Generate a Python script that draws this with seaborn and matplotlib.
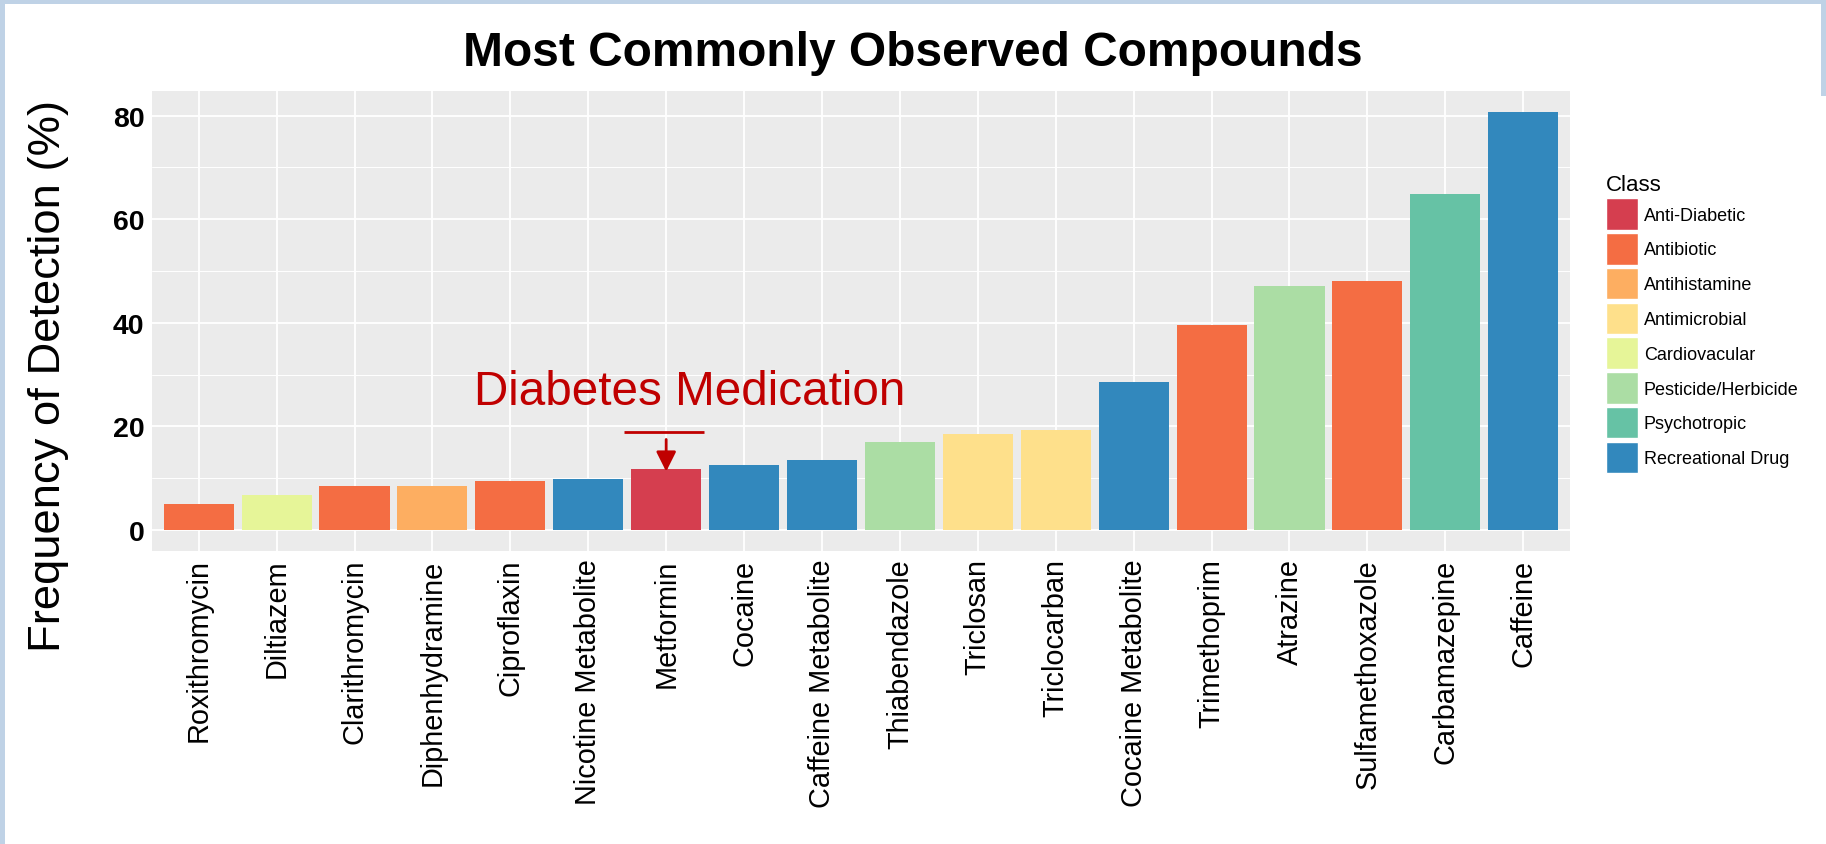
import pandas as pd
import matplotlib.pyplot as plt
import seaborn as sns
from matplotlib.patches import Patch, Rectangle
from matplotlib.ticker import MultipleLocator

# Data
compounds = ["Roxithromycin", "Diltiazem", "Clarithromycin", "Diphenhydramine", "Ciproflaxin",
             "Nicotine Metabolite", "Metformin", "Cocaine", "Caffeine Metabolite", "Thiabendazole",
             "Triclosan", "Triclocarban", "Cocaine Metabolite", "Trimethoprim", "Atrazine",
             "Sulfamethoxazole", "Carbamazepine", "Caffeine"]
frequency = [5.0, 6.8, 8.5, 8.5, 9.4, 9.9, 11.7, 12.6, 13.5, 17.0,
             18.5, 19.4, 28.6, 39.5, 47.1, 48.0, 64.8, 80.7]
compound_class = ["Antibiotic", "Cardiovacular", "Antibiotic", "Antihistamine", "Antibiotic",
                  "Recreational Drug", "Anti-Diabetic", "Recreational Drug", "Recreational Drug",
                  "Pesticide/Herbicide", "Antimicrobial", "Antimicrobial", "Recreational Drug",
                  "Antibiotic", "Pesticide/Herbicide", "Antibiotic", "Psychotropic", "Recreational Drug"]
classes = ["Anti-Diabetic", "Antibiotic", "Antihistamine", "Antimicrobial", "Cardiovacular",
           "Pesticide/Herbicide", "Psychotropic", "Recreational Drug"]
class_colors = ["#D53E4F", "#F46D43", "#FDAE61", "#FEE08B", "#E6F598", "#ABDDA4", "#66C2A5", "#3288BD"]
y_ticks = [0, 20, 40, 60, 80]

df = pd.DataFrame({"Compound": compounds, "Frequency": frequency, "Class": compound_class})
palette = dict(zip(classes, class_colors))

sns.set_theme(style="darkgrid", rc={"axes.facecolor": "#EBEBEB", "grid.color": "white",
                                    "text.color": "black", "axes.labelcolor": "black"})
plt.rcParams["font.family"] = ["Liberation Sans", "DejaVu Sans"]

fig = plt.figure(figsize=(18.26, 8.45), dpi=100)
fig.patch.set_facecolor("white")
ax = fig.add_axes([0.0832, 0.3467, 0.7766, 0.5444])

sns.barplot(data=df, x="Compound", y="Frequency", hue="Class", hue_order=classes,
            palette=palette, order=compounds, dodge=False, width=0.9, saturation=1,
            linewidth=0, legend=False, ax=ax)

# Annotation for metformin
mi = compounds.index("Metformin")
mv = frequency[mi]
red = "#C00000"
ax.text(mi + 0.3, 24.4, "Diabetes Medication", color=red, fontsize=34.3, ha="center", va="baseline")
ax.plot([mi - 0.54, mi + 0.49], [19.0, 19.0], color=red, lw=2, solid_capstyle="butt")
ax.annotate("", xy=(mi, mv - 0.4), xytext=(mi, 17.5),
            arrowprops=dict(arrowstyle="-|>,head_length=0.6,head_width=0.3", color=red, lw=2,
                            shrinkA=0, shrinkB=0, mutation_scale=20))

# Axes, ggplot-like look
ymax = max(frequency)
ax.set_xlim(-0.6, len(compounds) - 0.4)
ax.set_ylim(-0.05 * ymax, 1.05 * ymax)
ax.set_yticks(y_ticks)
ax.yaxis.set_minor_locator(MultipleLocator(10))
ax.grid(which="major", color="white", lw=1.3)
ax.grid(which="minor", axis="y", color="white", lw=0.7)
ax.set_axisbelow(True)
for s in ax.spines.values():
    s.set_visible(False)
ax.tick_params(which="minor", length=0)
ax.tick_params(which="major", length=3.3, width=0.8, color="#333333", labelcolor="black", pad=2)
ax.set_xticks(range(len(compounds)))
ax.set_xticklabels(compounds, rotation=90, fontsize=20.8)
ax.set_yticklabels([str(t) for t in y_ticks], fontsize=20.5, fontweight="bold")
ax.set_xlabel("")
ax.set_ylabel("")

fig.text(0.5, 0.9365, "Most Commonly Observed Compounds", ha="center", va="center",
         fontsize=34.5, fontweight="bold", color="black")
fig.text(0.0268, 0.5556, "Frequency of Detection (%)", ha="center", va="center",
         rotation=90, fontsize=32.7, color="black")

handles = [Patch(facecolor=c, edgecolor="white", linewidth=1) for c in class_colors]
fig.legend(handles, classes, title="Class", loc="upper left",
           bbox_to_anchor=(1606 / 1826, 1 - 175 / 845), frameon=False, fontsize=13,
           title_fontsize=16, handlelength=1.75, handleheight=2.31, labelspacing=0.18,
           handletextpad=0.35, borderpad=0, borderaxespad=0, alignment="left")

# slide border strips
border = "#BFD2E6"
fig.add_artist(Rectangle((0, 1 - 5 / 845), 1, 5 / 845, transform=fig.transFigure, color=border, lw=0))
fig.add_artist(Rectangle((0, 0), 5 / 1826, 1, transform=fig.transFigure, color=border, lw=0))
fig.add_artist(Rectangle((1821 / 1826, 1 - 97 / 845), 5 / 1826, 97 / 845,
                         transform=fig.transFigure, color=border, lw=0))

fig.savefig("out.png", dpi=100)
